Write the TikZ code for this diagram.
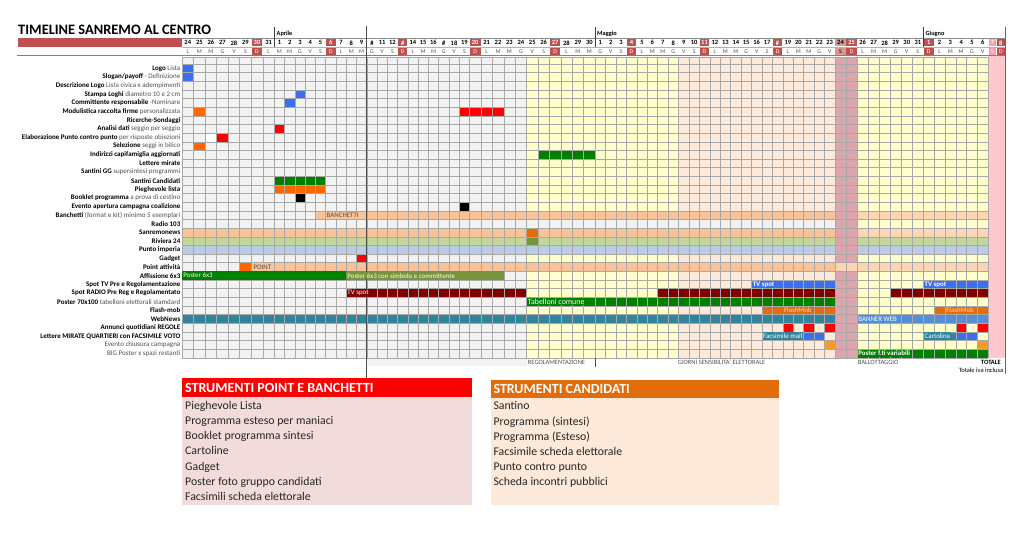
\documentclass[tikz,border=0pt]{standalone}
\usepackage{fontspec}
\setmainfont{Carlito}
\definecolor{hdrred}{HTML}{C0504D}
\definecolor{gridbg}{HTML}{F2F2F2}
\definecolor{yel}{HTML}{FFFFCC}
\definecolor{peachbg}{HTML}{FDE9D9}
\definecolor{dustyb}{HTML}{DBA6AD}
\definecolor{dustyh}{HTML}{D99694}
\definecolor{pinkcol}{HTML}{FFC7CE}
\definecolor{pinkhd}{HTML}{F4A0AA}
\definecolor{bandor}{HTML}{F9C39A}
\definecolor{bandorL}{HTML}{FCD5B4}
\definecolor{bandgr}{HTML}{C4D79B}
\definecolor{bandbl}{HTML}{B8CCE4}
\definecolor{cblue}{HTML}{3C6EF0}
\definecolor{corange}{HTML}{FF6600}
\definecolor{cred}{HTML}{FF0000}
\definecolor{cgreen}{HTML}{008000}
\definecolor{colive}{HTML}{77933C}
\definecolor{cdred}{HTML}{800000}
\definecolor{cteal}{HTML}{31849B}
\definecolor{cbanner}{HTML}{558ED5}
\definecolor{cflash}{HTML}{E46C0A}
\definecolor{cevento}{HTML}{F79A2A}
\definecolor{gline}{HTML}{A8A8A8}
\definecolor{labgray}{HTML}{505050}
\definecolor{boxpink}{HTML}{F2DCDB}
\definecolor{boxpeach}{HTML}{FDE9D9}
\definecolor{boxorange}{HTML}{E26B0A}
\definecolor{txtdark}{HTML}{262626}
\pgfmathdeclarefunction{cx}{1}{%
  \pgfmathparse{((#1)<8) ? (182+(#1)*11.54) : (((#1)<27) ? (274.3+((#1)-8)*10.27) : (((#1)<38) ? (469.5+((#1)-27)*11.41) : (((#1)<61) ? (595+((#1)-38)*10.43) : (((#1)<69) ? (835+((#1)-61)*11.04) : (((#1)<75) ? (923.3+((#1)-69)*10.83) : (988.3+((#1)-75)*8.35))))))}%
}
\newcommand\colrect[5]{\pgfmathsetmacro\gxa{cx(#1)}\pgfmathsetmacro\gxb{cx(#2+1)}\fill[#5] (\gxa,#3) rectangle (\gxb,#4);}
\newcommand\cellbar[4]{%
  \pgfmathsetmacro\gxa{cx(#2)}\pgfmathsetmacro\gxb{cx(#3+1)}%
  \pgfmathsetmacro\gya{64+(#1-1)*8.64}\pgfmathsetmacro\gyb{64+(#1)*8.64}%
  \fill[#4] (\gxa,\gya) rectangle (\gxb,\gyb);}
\newcommand\bartxt[5]{%
  \pgfmathsetmacro\gxa{cx(#3)}\pgfmathsetmacro\gyc{64+(#2-0.5)*8.64}%
  \node[bartext,#4] (#1) at (\gxa+0.5,\gyc) {#5};}
\newcommand\lab[3]{%
  \pgfmathsetmacro\gyc{64+(#1-0.5)*8.64}%
  \node[rowlab] (#2) at (180.5,\gyc) {#3};}
\newcommand\lt[1]{{\mdseries\color{labgray}#1}}
\begin{document}
\begin{tikzpicture}[x=1pt,y=-1pt,
  gridline/.style={draw=gline,line width=0.45pt},
  rowlab/.style={anchor=east,inner sep=0pt,font=\fontsize{7}{8}\selectfont\bfseries,text=black},
  bartext/.style={anchor=west,inner xsep=0.6pt,inner ysep=0pt,minimum height=7.4pt,font=\fontsize{6.9}{7.5}\selectfont,text=white},
  hnum/.style={inner sep=0pt,font=\fontsize{6.5}{7}\selectfont\bfseries},
  hlet/.style={inner sep=0pt,font=\fontsize{5.8}{6}\selectfont},
  btm/.style={anchor=base west,inner sep=0pt,font=\fontsize{6.5}{7}\selectfont,text=labgray},
  boxhead/.style={anchor=base west,inner sep=0pt,font=\fontsize{14}{16}\selectfont\bfseries,text=white},
  boxitem/.style={anchor=base west,inner sep=0pt,font=\fontsize{11.8}{14}\selectfont,text=txtdark},
  monthline/.style={draw=black!75,line width=0.6pt}]
\useasboundingbox (0,0) rectangle (1024,543);
\fill[white] (0,0) rectangle (1024,543);
% title
\node[anchor=base west,inner sep=0pt,font=\fontsize{14.4}{16}\selectfont\bfseries] (title) at (18,35) {TIMELINE SANREMO AL CENTRO};
\fill[hdrred] (18,38.3) rectangle (182,46.7);
% month labels
\node[anchor=base west,inner sep=0pt,font=\fontsize{6.3}{7}\selectfont\bfseries] (mapr) at (276.5,35.5) {Aprile};
\node[anchor=base west,inner sep=0pt,font=\fontsize{6.3}{7}\selectfont\bfseries] (mmag) at (597,35.5) {Maggio};
\node[anchor=base west,inner sep=0pt,font=\fontsize{6.3}{7}\selectfont\bfseries] (mgiu) at (925.5,35.5) {Giugno};
% header cells
\foreach \i in {0,...,76}{
  \pgfmathsetmacro\hxa{cx(\i)}
  \pgfmathsetmacro\hxb{cx(\i+1)}
  \pgfmathsetmacro\hxc{(\hxa+\hxb)/2}
  \pgfmathtruncatemacro\hWd{mod(\i,7)}
  \pgfmathtruncatemacro\hDn{(\i<8) ? (24+\i) : ((\i<38) ? (\i-7) : ((\i<69) ? (\i-37) : (\i-68)))}
  \pgfmathtruncatemacro\hHs{((\i==17)||(\i==20)||(\i==24)||(\i==55)) ? 1 : 0}
  \pgfmathtruncatemacro\hKd{(\i==61) ? 2 : ((\i==75) ? 3 : ((\hWd==6) ? 1 : 0))}
  \ifcase\hKd \def\hfc{white}\def\htc{black}\def\hlc{labgray}\or
    \def\hfc{hdrred}\def\htc{white}\def\hlc{white}\or
    \def\hfc{dustyh}\def\htc{black}\def\hlc{black}\or
    \def\hfc{pinkhd}\def\htc{white}\def\hlc{white}\fi
  \fill[\hfc] (\hxa+0.4,38.9) rectangle (\hxb-0.4,46.5);
  \fill[\hfc] (\hxa+0.4,47.4) rectangle (\hxb-0.4,55);
  \node[hnum,text=\htc] (hn\i) at (\hxc,42.8) {\ifnum\hHs=1 \#\else\hDn\fi};
  \node[hlet,text=\hlc] (hl\i) at (\hxc,51.3) {\ifcase\hWd L\or M\or M\or G\or V\or S\or D\fi};
}
\draw[draw=black!45,line width=0.5pt] (182,38.3) -- (1005,38.3);
\draw[draw=black!30,line width=0.4pt] (182,46.95) -- (1005,46.95);
\draw[draw=black!50,line width=0.5pt] (17,55.6) -- (1005,55.6);
\draw[monthline] (274.3,27) -- (274.3,47);
\draw[monthline] (595,27) -- (595,47);
\draw[monthline] (923.3,27) -- (923.3,47);
% backgrounds
\colrect{0}{31}{57.5}{357.76}{gridbg}
\colrect{32}{45}{57.5}{357.76}{yel}
\colrect{46}{60}{57.5}{357.76}{peachbg}
\colrect{61}{62}{57.5}{357.76}{dustyb}
\colrect{63}{74}{57.5}{357.76}{yel}
\colrect{75}{76}{55.6}{357.76}{pinkcol}
\fill[gridbg] (366.7,357.76) rectangle (526.6,366);
% bands
\cellbar{18}{12}{60}{bandor}
\cellbar{18}{63}{74}{bandorL}
\cellbar{19}{32}{60}{gridbg}
\cellbar{20}{0}{60}{bandor}
\cellbar{20}{63}{74}{bandorL}
\cellbar{20}{32}{32}{cflash}
\cellbar{21}{0}{60}{bandgr}
\cellbar{21}{63}{74}{bandgr}
\cellbar{21}{32}{32}{colive}
\cellbar{22}{0}{60}{bandbl}
\cellbar{22}{63}{74}{bandbl}
\cellbar{24}{5}{5}{corange}
\cellbar{24}{6}{60}{bandor}
\cellbar{24}{61}{74}{bandorL}
% bars
\cellbar{1}{0}{0}{cblue}
\cellbar{2}{0}{0}{cblue}
\cellbar{4}{10}{10}{cblue}
\cellbar{5}{9}{9}{cblue}
\cellbar{6}{1}{1}{corange}
\cellbar{6}{26}{29}{cred}
\cellbar{8}{8}{8}{cred}
\cellbar{9}{2}{2}{white}
\cellbar{9}{3}{3}{cred}
\cellbar{10}{1}{1}{corange}
\cellbar{11}{33}{37}{cgreen}
\cellbar{14}{8}{12}{cgreen}
\cellbar{15}{8}{12}{corange}
\cellbar{16}{10}{10}{black}
\cellbar{17}{26}{26}{black}
\cellbar{23}{16}{16}{cred}
\cellbar{26}{53}{60}{cblue}
\cellbar{26}{69}{74}{cblue}
\cellbar{27}{15}{31}{cdred}
\cellbar{27}{44}{60}{cdred}
\cellbar{27}{66}{74}{cdred}
\cellbar{28}{32}{60}{cgreen}
\cellbar{29}{54}{60}{cflash}
\cellbar{29}{70}{74}{cflash}
\cellbar{30}{0}{60}{cteal}
\cellbar{30}{63}{74}{cbanner}
\cellbar{31}{56}{56}{cred}
\cellbar{31}{58}{58}{cred}
\cellbar{31}{60}{60}{cred}
\cellbar{31}{72}{72}{cred}
\cellbar{31}{74}{74}{cred}
\cellbar{32}{54}{57}{cteal}
\cellbar{32}{58}{59}{cblue}
\cellbar{32}{69}{71}{cteal}
\cellbar{32}{72}{73}{cblue}
\cellbar{33}{60}{60}{cevento}
\cellbar{33}{74}{74}{cevento}
\cellbar{34}{63}{74}{cgreen}
% grid lines
\foreach \i in {0,...,75}{\pgfmathsetmacro\gx{cx(\i)}\draw[gridline] (\gx,57.5) -- (\gx,357.76);}
\draw[gridline] (182,57.5) -- (988.3,57.5);
\foreach \r in {0,...,34}{\pgfmathsetmacro\gy{64+\r*8.64}\draw[gridline] (182,\gy) -- (988.3,\gy);}
% merged bars
\cellbar{25}{0}{14}{cgreen}
\cellbar{25}{15}{29}{colive}
% dark vertical line and right edge
\draw[draw=black!70,line width=0.7pt] (366.7,26) -- (366.7,378.3);
\draw[draw=black!60,line width=0.6pt] (1005,27) -- (1005,374);
\draw[draw=black!70,line width=0.6pt] (595,357.76) -- (595,367);
% bar texts
\bartxt{tban}{18}{12}{fill=bandor,text=labgray,xshift=10pt}{BANCHETTI}
\bartxt{tpoint}{24}{6}{fill=bandor,text=labgray,xshift=1pt}{POINT}
\bartxt{tp6}{25}{0}{fill=cgreen}{Poster 6x3}
\bartxt{tp6b}{25}{15}{fill=colive}{Poster 6x3 con simbolo e committente}
\bartxt{ttv1}{27}{15}{fill=cdred}{TV spot}
\bartxt{ttv2}{26}{53}{fill=cblue,font=\fontsize{6.9}{7.5}\selectfont\bfseries}{TV spot}
\bartxt{ttv3}{26}{69}{fill=cblue,font=\fontsize{6.9}{7.5}\selectfont\bfseries}{TV spot}
\bartxt{ttab}{28}{32}{fill=cgreen,font=\fontsize{7.9}{8}\selectfont}{Tabelloni comune}
\bartxt{tfm1}{29}{56}{fill=cflash,text=bandorL}{FlashMob}
\bartxt{tfm2}{29}{71}{fill=cflash,text=bandorL}{FlashMob}
\bartxt{tbw}{30}{63}{fill=cbanner}{BANNER WEB}
\bartxt{tfx}{32}{54}{fill=cteal}{Facsimile mail}
\bartxt{tcart}{32}{69}{fill=cteal}{Cartolina}
\bartxt{tbig}{34}{63}{fill=cgreen,font=\fontsize{6.9}{7.5}\selectfont\bfseries}{Poster f.ti variabili}
% row labels
\lab{1}{l1}{Logo \lt{Lista}}
\lab{2}{l2}{Slogan/payoff \lt{- Definizione}}
\lab{3}{l3}{Descrizione Logo \lt{Lista civica x adempimenti}}
\lab{4}{l4}{Stampa Loghi \lt{diametro 10 e 2 cm}}
\lab{5}{l5}{Committente responsabile \lt{-Nominare}}
\lab{6}{l6}{Modulistica raccolta firme \lt{personalizzata}}
\lab{7}{l7}{Ricerche-Sondaggi}
\lab{8}{l8}{Analisi dati \lt{seggio per seggio}}
\lab{9}{l9}{Elaborazione Punto contro punto \lt{per risposte obiezioni}}
\lab{10}{l10}{Selezione \lt{seggi in bilico}}
\lab{11}{l11}{Indirizzi capifamiglia aggiornati}
\lab{12}{l12}{Lettere mirate}
\lab{13}{l13}{Santini GG \lt{supersintesi programmi}}
\lab{14}{l14}{Santini Candidati}
\lab{15}{l15}{Pieghevole lista}
\lab{16}{l16}{Booklet programma \lt{a prova di cestino}}
\lab{17}{l17}{Evento apertura campagna coalizione}
\lab{18}{l18}{Banchetti \lt{(format e kit) minimo 5 esemplari}}
\lab{19}{l19}{Radio 103}
\lab{20}{l20}{Sanremonews}
\lab{21}{l21}{Riviera 24}
\lab{22}{l22}{Punto imperia}
\lab{23}{l23}{Gadget}
\lab{24}{l24}{Point attività}
\lab{25}{l25}{Affissione 6x3}
\lab{26}{l26}{Spot TV Pre e Regolamentazione}
\lab{27}{l27}{Spot RADIO Pre Reg e Regolamentato}
\lab{28}{l28}{Poster 70x100 \lt{tabelloni elettorali stamdard}}
\lab{29}{l29}{Flash-mob}
\lab{30}{l30}{WebNews}
\lab{31}{l31}{Annunci quotidiani REGOLE}
\lab{32}{l32}{Lettere MIRATE QUARTIERI con FACSIMILE VOTO}
\lab{33}{l33}{\lt{Evento chiusura campagna}}
\lab{34}{l34}{\lt{BIG Poster x spazi restanti}}
% bottom labels
\node[btm] (breg) at (527.7,364) {REGOLAMENTAZIONE};
\node[btm] (bgio) at (677.7,364) {GIORNI SENSIBILITA' ELETTORALE};
\node[btm] (bbal) at (857.7,364) {BALLOTTAGGIO};
\node[btm,anchor=base east,font=\fontsize{6.5}{7}\selectfont\bfseries,text=black] (btot) at (1001,364) {TOTALE};
\node[btm,anchor=base east,text=black] (biva) at (1003.5,372.3) {Totale iva inclusa};
% box 1
\fill[boxpink] (181.7,396.7) rectangle (471.7,505);
\fill[cred] (181.7,378.3) rectangle (471.7,396.7);
\node[boxhead] (b1h) at (185,392.2) {STRUMENTI POINT E BANCHETTI};
\node[boxitem] (b1a) at (185,409.2) {Pieghevole Lista};
\node[boxitem] (b1b) at (185,424.4) {Programma esteso per maniaci};
\node[boxitem] (b1c) at (185,439.6) {Booklet programma sintesi};
\node[boxitem] (b1d) at (185,454.8) {Cartoline};
\node[boxitem] (b1e) at (185,470) {Gadget};
\node[boxitem] (b1f) at (185,485.2) {Poster foto gruppo candidati};
\node[boxitem] (b1g) at (185,500.4) {Facsimili scheda elettorale};
% box 2
\fill[boxpeach] (491,397.7) rectangle (779.3,505);
\fill[boxorange] (491,380) rectangle (779.3,397.7);
\node[boxhead] (b2h) at (493.3,393.3) {STRUMENTI CANDIDATI};
\node[boxitem] (b2a) at (493.3,409.9) {Santino};
\node[boxitem] (b2b) at (493.3,425.1) {Programma (sintesi)};
\node[boxitem] (b2c) at (493.3,440.3) {Programma (Esteso)};
\node[boxitem] (b2d) at (493.3,455.5) {Facsimile scheda elettorale};
\node[boxitem] (b2e) at (493.3,470.7) {Punto contro punto};
\node[boxitem] (b2f) at (493.3,485.9) {Scheda incontri pubblici};
\end{tikzpicture}
\end{document}
